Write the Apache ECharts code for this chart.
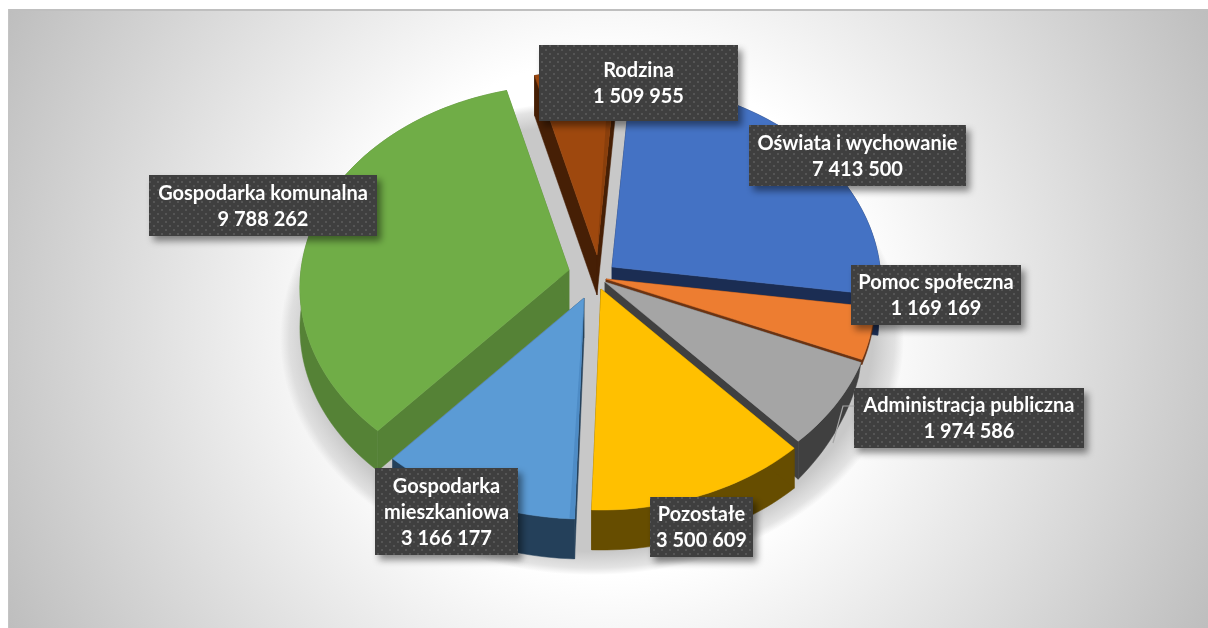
<!DOCTYPE html>
<html>
<head>
<meta charset="utf-8">
<style>html,body{margin:0;padding:0;background:#fff}#c{width:1208px;height:628px}</style>
<script src="https://cdn.jsdelivr.net/npm/echarts@6/dist/echarts.min.js"></script>
</head>
<body>
<div id="c"></div>
<script>
// ---- data ----
const categories = ['Oświata i wychowanie','Pomoc społeczna','Administracja publiczna','Pozostałe','Gospodarka mieszkaniowa','Gospodarka komunalna','Rodzina'];
const values = [7413500,1169169,1974586,3500609,3166177,9788262,1509955];
const valueLabels = ['7 413 500','1 169 169','1 974 586','3 500 609','3 166 177','9 788 262','1 509 955'];
const labelNames = ['Oświata i wychowanie','Pomoc społeczna','Administracja publiczna','Pozostałe','Gospodarka\nmieszkaniowa','Gospodarka komunalna','Rodzina'];

// ---- styles ----
const topColors = ['#4472C4','#ED7D31','#A5A5A5','#FFC000','#5B9BD5','#70AD47','#9E480E'];
const sideColors = ['#1B2D53','#6B3312','#404040','#664D00','#24405A','#558236','#461F05'];

// ---- layout of the tilted, exploded pie ----
const startAngle = 4.4, rx = 268, ry = 201.4, persp = 0.0887, depth = 40;
const apexes = [[612,267],[606,279],[605,282],[601,289],[584,298],[569,270],[597,255]];
const paintOrder = [0,6,5,1,2,4,3];
const labelBoxes = [[749,125,217,61],[851,265,170,60],[854,388,230,60],[650,497,103,60],[375,468,143,87],[149,175,228,61],[539,45,199,76]];
const bevels = {4:[0,1.0,'#4E8CC6'],6:[1,-1.5,'#8A3F0C']};

const total = values.reduce((a,b)=>a+b,0);
const spans = []; let acc = startAngle;
values.forEach(v=>{ const a = v/total*360; spans.push([acc,acc+a]); acc+=a; });

function project(apex, deg, radial, dy){
  const t = deg*Math.PI/180, u = Math.sin(t)*radial, v = Math.cos(t)*radial;
  const s = 1/(1+persp*v);
  return [apex[0]+rx*u*s, apex[1]-ry*v*s+dy];
}
function arc(apex, a0, a1, depthOf, dx){
  const n = Math.max(2, Math.ceil((a1-a0)/1.5)), out=[];
  for(let k=0;k<=n;k++){
    const d = a0+(a1-a0)*k/n, p = project(apex, d, 1, depthOf(d));
    out.push([p[0]+dx,p[1]]);
  }
  return out;
}
// the rim's visible height differs by slice on the right of the pie
const rimDepth = [
  ()=>depth,
  ()=>5,
  d=>38*Math.sqrt(Math.min(1,Math.max(0,(d-112.8)/24.9))),
  ()=>depth, ()=>depth, ()=>depth, ()=>depth
];

const tile = document.createElement('canvas'); tile.width = 8; tile.height = 8;
(function(){
  const g = tile.getContext('2d');
  g.fillStyle = '#3f3f3f'; g.fillRect(0,0,8,8);
  g.fillStyle = '#555555';
  g.fillRect(1,1,2,2); g.fillRect(5,5,2,2);
})();

const option = {
  animation:false,
  backgroundColor:'#ffffff',
  graphic:[
    {type:'rect',z:-20,silent:true,shape:{x:8,y:9,width:1200,height:619},
     style:{fill:new echarts.graphic.RadialGradient(608,318,680,[
       {offset:0,color:'#ffffff'},{offset:0.38,color:'#ffffff'},{offset:1,color:'#bdbdbd'}],true)}},
    {type:'rect',z:-19,silent:true,shape:{x:8,y:9,width:1200,height:2},style:{fill:'#bfbfbf'}},
    {type:'rect',z:-19,silent:true,shape:{x:8,y:9,width:1,height:619},style:{fill:'#c4c4c4'}},
    {type:'circle',z:-10,silent:true,x:592,y:338,scaleY:0.76,shape:{cx:0,cy:0,r:312},
     style:{fill:new echarts.graphic.RadialGradient(0.5,0.5,0.5,[
       {offset:0,color:'#c8c8c8'},{offset:0.9,color:'#c8c8c8'},{offset:0.97,color:'rgba(200,200,200,0.5)'},{offset:1,color:'rgba(200,200,200,0)'}])}}
  ],
  series:[
    {
      type:'custom', coordinateSystem:'none', silent:true, z:2, clip:false,
      data: paintOrder.map(i=>[i, values[i]]),
      renderItem:function(params, api){
        const i = api.value(0), [a0,a1] = spans[i], apex = apexes[i];
        const top = arc(apex,a0,a1,()=>0,0), bottom = arc(apex,a0,a1,rimDepth[i],i===0?-3:0);
        const sb = {fill:sideColors[i], stroke:sideColors[i], lineWidth:0.5};
        const apexB = [apex[0],apex[1]+depth];
        const kids = [
          {type:'polygon',shape:{points:top.concat(bottom.slice().reverse())},style:sb},
          {type:'polygon',shape:{points:[apex,top[0],bottom[0],apexB]},style:sb},
          {type:'polygon',shape:{points:[apex,top[top.length-1],bottom[bottom.length-1],apexB]},style:sb},
          {type:'polygon',shape:{points:[apex].concat(top)},style:{fill:topColors[i],stroke:topColors[i],lineWidth:0.5}}
        ];
        if(bevels[i]){
          const [side,delta,col] = bevels[i], base = side===0?a0:a1;
          kids.push({type:'polygon',shape:{points:[apex,project(apex,base,1,0),project(apex,base+delta,1,0)]},style:{fill:col}});
        }
        return {type:'group',children:kids};
      }
    },
    {
      type:'custom', coordinateSystem:'none', silent:true, z:5, clip:false,
      data: categories.map((c,i)=>[i, values[i]]),
      renderItem:function(params, api){
        const i = api.value(0), b = labelBoxes[i];
        const kids = [
          {type:'rect',shape:{x:b[0],y:b[1],width:b[2],height:b[3]},
           style:{fill:{image:tile,repeat:'repeat'},shadowBlur:7,shadowOffsetX:4,shadowOffsetY:5,shadowColor:'rgba(0,0,0,0.45)'}},
          {type:'text',x:b[0]+b[2]/2,y:b[1]+b[3]/2+1,
           style:{text:labelNames[i]+'\n'+valueLabels[i],fill:'#ffffff',font:'bold 20px Lato',align:'center',verticalAlign:'middle',lineHeight:26}}
        ];
        if(i===2) kids.unshift({type:'polyline',shape:{points:[[854,406],[843,406],[833,443]]},style:{fill:'none',stroke:'#a6a6a6',lineWidth:1.2}});
        return {type:'group',children:kids};
      }
    }
  ]
};
echarts.init(document.getElementById('c'),null,{renderer:'canvas'}).setOption(option);
</script>
</body>
</html>
